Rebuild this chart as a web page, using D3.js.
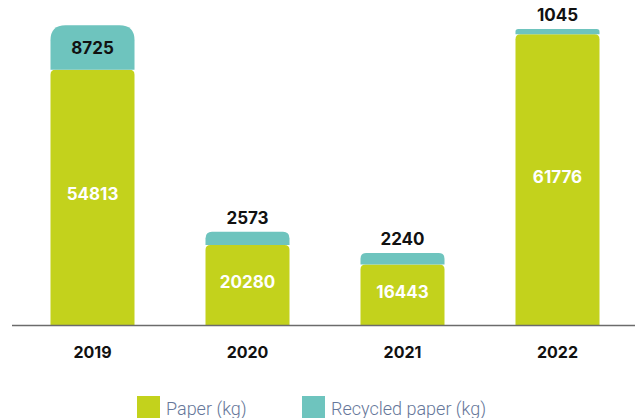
<!DOCTYPE html>
<html>
<head>
<meta charset="utf-8">
<script src="https://cdn.jsdelivr.net/npm/d3@7.9.0/dist/d3.min.js"></script>
<style>
  body { margin: 0; background: #fff; }
  svg { display: block; }
</style>
</head>
<body>
<svg width="635" height="418"></svg>
<script>
const years = ['2019', '2020', '2021', '2022'];
const paper = [54813, 20280, 16443, 61776];
const recycled = [8725, 2573, 2240, 1045];
const seriesNames = ['Paper (kg)', 'Recycled paper (kg)'];

const green = '#c3d21c';
const teal = '#6ec4be';

const svg = d3.select('svg');

const x = d3.scaleBand()
  .domain(years)
  .range([50.5, 599.5])
  .paddingInner(0.458)
  .paddingOuter(0);

// no value axis is shown; domain is tuned to the way the source sizes its bars
const y = d3.scaleLinear()
  .domain([4500, 64000])
  .range([325, 23]);

// rect with rounded top corners only
function topRounded(x0, y0, w, h, r) {
  r = Math.min(r, h, w / 2);
  return `M${x0},${y0 + h}V${y0 + r}Q${x0},${y0} ${x0 + r},${y0}` +
    `H${x0 + w - r}Q${x0 + w},${y0} ${x0 + w},${y0 + r}V${y0 + h}Z`;
}

const rows = years.map((yr, i) => ({
  year: yr,
  paper: paper[i],
  recycled: recycled[i],
  total: paper[i] + recycled[i]
}));

const bars = svg.selectAll('g.bar')
  .data(rows)
  .join('g')
  .attr('class', 'bar');

// paper segment
bars.append('path')
  .attr('fill', green)
  .attr('d', d => {
    const top = y(d.paper);
    return topRounded(x(d.year), top, x.bandwidth(), y.range()[0] - top, 5);
  });

// recycled segment
bars.append('path')
  .attr('fill', teal)
  .attr('d', d => {
    const top = y(d.total);
    const h = y(d.paper) - top;
    return topRounded(x(d.year), top, x.bandwidth(), h, Math.min(15, h / 2));
  });

// paper labels
bars.append('text')
  .attr('x', d => x(d.year) + x.bandwidth() / 2)
  .attr('y', d => (y(d.paper) + y.range()[0]) / 2 - 3)
  .attr('dy', '0.35em')
  .attr('text-anchor', 'middle')
  .attr('fill', '#fff')
  .style('font', '700 17px Inter, sans-serif')
  .text(d => d.paper);

// recycled labels: inside when there is room, above otherwise
bars.append('text')
  .attr('x', d => x(d.year) + x.bandwidth() / 2)
  .attr('y', d => {
    const top = y(d.total), h = y(d.paper) - top;
    return h > 30 ? top + h / 2 + 1 : top - 14;
  })
  .attr('dy', '0.35em')
  .attr('text-anchor', 'middle')
  .attr('fill', '#111')
  .style('font', '700 17px Inter, sans-serif')
  .text(d => d.recycled);

// baseline
svg.append('line')
  .attr('x1', 12).attr('x2', 635)
  .attr('y1', y.range()[0] + 0.5).attr('y2', y.range()[0] + 0.5)
  .attr('stroke', '#6b6b6b')
  .attr('stroke-width', 1.5);

// year labels
const xAxis = svg.append('g')
  .attr('transform', `translate(0,${y.range()[0]})`)
  .call(d3.axisBottom(x).tickSize(0).tickPadding(22));
xAxis.select('.domain').remove();
xAxis.selectAll('text')
  .attr('fill', '#111')
  .style('font', '700 16px Inter, sans-serif');

// legend
const legend = svg.append('g');
const legendX = [137, 302];
const legendColors = [green, teal];
seriesNames.forEach((name, i) => {
  legend.append('rect')
    .attr('x', legendX[i]).attr('y', 396)
    .attr('width', 23).attr('height', 23)
    .attr('fill', legendColors[i]);
  legend.append('text')
    .attr('x', legendX[i] + 29).attr('y', 415)
    .attr('fill', '#66779a')
    .style('font', '300 18px Roboto, sans-serif')
    .text(name);
});
</script>
</body>
</html>
